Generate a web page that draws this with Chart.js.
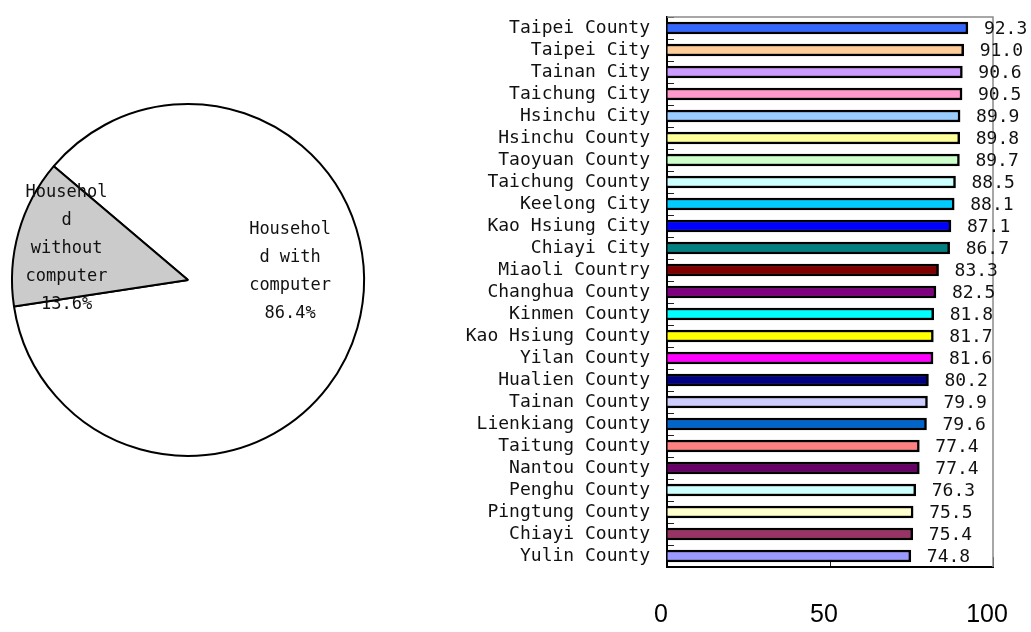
<!DOCTYPE html>
<html>
<head>
<meta charset="utf-8">
<script src="https://cdn.jsdelivr.net/npm/chart.js@4.4.1/dist/chart.umd.min.js"></script>
<style>
  html, body { margin: 0; padding: 0; background: #ffffff; }
  #wrap { position: relative; width: 1031px; height: 632px; overflow: hidden; }
  #pieBox { position: absolute; left: 0; top: 0; width: 376px; height: 560px; }
  #barBox { position: absolute; left: 400px; top: 0; width: 631px; height: 632px; }
</style>
</head>
<body>
<div id="wrap">
  <div id="pieBox"><canvas id="pie"></canvas></div>
  <div id="barBox"><canvas id="bar"></canvas></div>
</div>
<script>
// Household computer ownership (pie)
const pieLabels = ["Househol\nd with\ncomputer", "Househol\nd\nwithout\ncomputer"];
const pieValues = [86.4, 13.6];
const pieColors = ["#ffffff", "#cbcbcb"];

// Ownership rate by county / city (bars)
const regions = [
  "Taipei County", "Taipei City", "Tainan City", "Taichung City", "Hsinchu City",
  "Hsinchu County", "Taoyuan County", "Taichung County", "Keelong City", "Kao Hsiung City",
  "Chiayi City", "Miaoli Country", "Changhua County", "Kinmen County", "Kao Hsiung County",
  "Yilan County", "Hualien County", "Tainan County", "Lienkiang County", "Taitung County",
  "Nantou County", "Penghu County", "Pingtung County", "Chiayi County", "Yulin County"
];
const rates = [
  92.3, 91.0, 90.6, 90.5, 89.9,
  89.8, 89.7, 88.5, 88.1, 87.1,
  86.7, 83.3, 82.5, 81.8, 81.7,
  81.6, 80.2, 79.9, 79.6, 77.4,
  77.4, 76.3, 75.5, 75.4, 74.8
];
const barColors = [
  "#3366ff", "#ffcc99", "#cc99ff", "#ff99cc", "#99ccff",
  "#ffff99", "#ccffcc", "#ccffff", "#00ccff", "#0000ff",
  "#008080", "#800000", "#800080", "#00ffff", "#ffff00",
  "#ff00ff", "#000080", "#ccccff", "#0066cc", "#ff8080",
  "#660066", "#ccffff", "#ffffcc", "#993366", "#9999ff"
];
const xTicks = [0, 50, 100];

const MONO = "'DejaVu Sans Mono', monospace";

// Multi-line slice labels, anchored relative to the pie centre in units of radius
const pieLabelPlugin = {
  id: 'pieLabels',
  afterDatasetsDraw(chart, args, opts) {
    const ctx = chart.ctx;
    const meta = chart.getDatasetMeta(0);
    ctx.save();
    ctx.font = opts.font;
    ctx.fillStyle = '#111';
    ctx.textAlign = 'center';
    ctx.textBaseline = 'middle';
    meta.data.forEach((arc, i) => {
      const lines = pieLabels[i].split('\n').concat([pieValues[i].toFixed(1) + '%']);
      const a = opts.anchors[i];
      const cx = arc.x + a[0] * arc.outerRadius;
      const cy = arc.y + a[1] * arc.outerRadius;
      const lh = opts.lineHeight;
      const y0 = cy - (lines.length - 1) * lh / 2;
      lines.forEach((t, k) => ctx.fillText(t, cx, y0 + k * lh));
    });
    ctx.restore();
  }
};

new Chart(document.getElementById('pie'), {
  type: 'pie',
  data: {
    labels: pieLabels,
    datasets: [{
      data: pieValues,
      backgroundColor: pieColors,
      borderColor: '#000000',
      borderWidth: 2
    }]
  },
  options: {
    responsive: true,
    maintainAspectRatio: false,
    animation: false,
    rotation: -49.7,
    layout: { padding: { left: 11, right: 11, top: 103, bottom: 103 } },
    plugins: {
      legend: { display: false },
      tooltip: { enabled: false },
      pieLabels: {
        font: "17px " + MONO,
        lineHeight: 28,
        anchors: [[0.58, -0.05], [-0.69, -0.18]]
      }
    }
  },
  plugins: [pieLabelPlugin]
});

// Value text to the right of each bar, plus the light frame on top and right
const barExtras = {
  id: 'barExtras',
  afterDatasetsDraw(chart) {
    const ctx = chart.ctx;
    const area = chart.chartArea;
    ctx.save();
    ctx.strokeStyle = '#8a8a8a';
    ctx.lineWidth = 1.5;
    ctx.beginPath();
    ctx.moveTo(area.left, area.top);
    ctx.lineTo(area.right, area.top);
    ctx.lineTo(area.right, area.bottom);
    ctx.stroke();

    const meta = chart.getDatasetMeta(0);
    ctx.font = "18px " + MONO;
    ctx.fillStyle = '#111';
    ctx.textAlign = 'left';
    ctx.textBaseline = 'middle';
    meta.data.forEach((bar, i) => {
      ctx.fillText(rates[i].toFixed(1), bar.x + 16, bar.y + 1);
    });
    ctx.restore();
  }
};

// Fixed axis sizes; the plot frame is set by the layout padding alone
function noEdgePadding(scale) {
  scale.paddingLeft = 0;
  scale.paddingRight = 0;
  scale.paddingTop = 0;
  scale.paddingBottom = 0;
}

new Chart(document.getElementById('bar'), {
  type: 'bar',
  data: {
    labels: regions,
    datasets: [{
      data: rates,
      backgroundColor: barColors,
      borderColor: '#000000',
      borderWidth: 2.5,
      barThickness: 12
    }]
  },
  options: {
    indexAxis: 'y',
    responsive: true,
    maintainAspectRatio: false,
    animation: false,
    layout: { autoPadding: false, padding: { left: 0, right: 38, top: 17, bottom: 0 } },
    plugins: {
      legend: { display: false },
      tooltip: { enabled: false }
    },
    scales: {
      x: {
        min: 0,
        max: 100,
        afterBuildTicks(scale) { scale.ticks = xTicks.map(v => ({ value: v })); },
        afterFit(scale) { scale.height = 65; noEdgePadding(scale); },
        border: { display: true, color: '#000000', width: 2 },
        grid: { drawOnChartArea: false, drawTicks: true, tickLength: -10, color: '#222222', lineWidth: 1 },
        ticks: {
          color: '#000000',
          font: { family: "'Liberation Sans', Arial, sans-serif", size: 25 },
          padding: 43,
          labelOffset: -6,
          maxRotation: 0
        }
      },
      y: {
        afterFit(scale) { scale.width = 267; noEdgePadding(scale); },
        border: { display: true, color: '#000000', width: 2 },
        grid: { offset: true, drawOnChartArea: false, drawTicks: true, tickLength: -7, color: '#222222', lineWidth: 1 },
        ticks: {
          color: '#111111',
          font: { family: MONO, size: 18 },
          padding: 24,
          autoSkip: false
        }
      }
    }
  },
  plugins: [barExtras]
});
</script>
</body>
</html>
